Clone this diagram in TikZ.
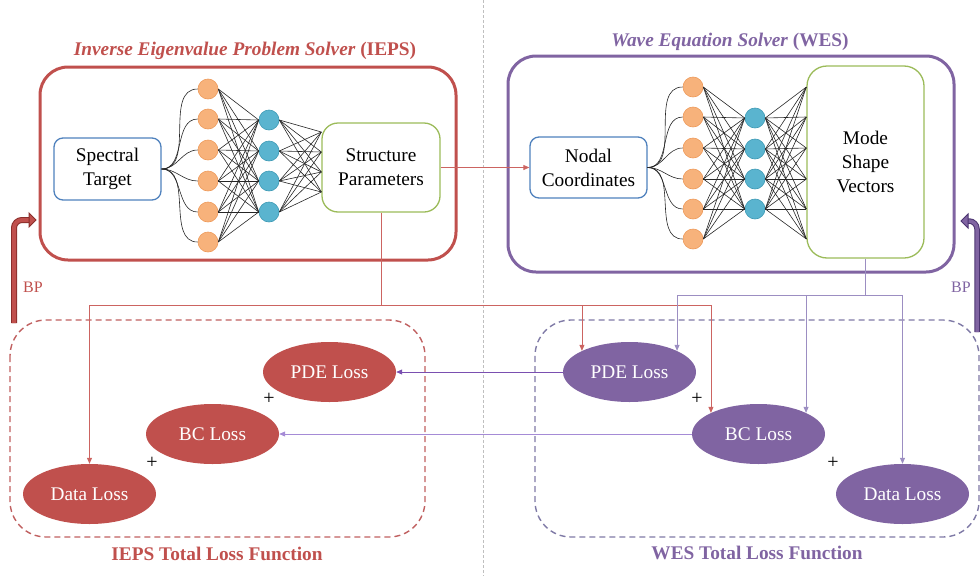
\documentclass[tikz,border=0pt]{standalone}
\usepackage{fontspec}
\setmainfont{Liberation Serif}
\usetikzlibrary{shapes.geometric,arrows.meta,calc}

\definecolor{iepsred}{HTML}{C0504D}
\definecolor{wespurple}{HTML}{8064A2}
\definecolor{boxblue}{HTML}{4F81BD}
\definecolor{boxgreen}{HTML}{9BBB59}
\definecolor{orgfill}{HTML}{F7B27B}
\definecolor{orgline}{HTML}{EE9A5A}
\definecolor{cyfill}{HTML}{5AB4CF}
\definecolor{cyline}{HTML}{3E9AB5}
\definecolor{linkred}{HTML}{CC6461}
\definecolor{linkpurple}{HTML}{9C8EC2}
\definecolor{darkpurple}{HTML}{7A4FB0}
\definecolor{lightpurple}{HTML}{A58BD6}
\definecolor{dashred}{HTML}{C06060}
\definecolor{dashpurple}{HTML}{7F7AA6}
\definecolor{bpred}{HTML}{8B2E2B}
\definecolor{bppurple}{HTML}{4B3470}

\tikzset{
  txt/.style={font=\fontsize{19.3}{24}\selectfont, align=center},
  inbox/.style={txt, draw=boxblue, line width=1.3pt, rounded corners=9pt, inner sep=0pt},
  outbox/.style={txt, draw=boxgreen, line width=1.3pt, rounded corners=16pt, inner sep=0pt},
  onode/.style={circle, fill=orgfill, draw=orgline, line width=0.6pt, minimum size=20pt, inner sep=0pt},
  bnode/.style={circle, fill=cyfill, draw=cyline, line width=0.6pt, minimum size=20pt, inner sep=0pt},
  net/.style={black!85, line width=0.6pt},
  loss/.style={ellipse, minimum width=133pt, minimum height=60pt, inner sep=0pt, text=white,
               font=\fontsize{19.3}{22}\selectfont},
  lossred/.style={loss, fill=iepsred},
  losspurple/.style={loss, fill=wespurple},
  tip/.style={-{Triangle[length=6pt,width=5pt]}},
  plussign/.style={font=\fontsize{20}{20}\selectfont},
  title/.style={font=\fontsize{19.3}{22}\selectfont\bfseries},
}

\begin{document}
\begin{tikzpicture}[x=1pt,y=-1pt]
\useasboundingbox (0,0) rectangle (980,576);

% centre divider
\draw[black!25, line width=1pt, dash pattern=on 3pt off 2pt] (483,0) -- (483,576);

% ---------------- IEPS ----------------
\node[title, text=iepsred] (t1) at (245,51) {\itshape Inverse Eigenvalue Problem Solver\/ \upshape(IEPS)};
\draw[iepsred, line width=3pt, rounded corners=28pt] (40,67) rectangle (456,260);

\node[inbox, minimum width=107pt, minimum height=62pt] (st) at (107.5,169) {Spectral\\Target};
\node[outbox, minimum width=118pt, minimum height=89pt] (sp) at (381,167.5) {Structure\\Parameters};

\foreach \i/\yy in {1/89,2/119,3/150,4/181,5/212,6/242}
  \node[onode] (a\i) at (208,\yy) {};
\foreach \i/\yy in {1/120,2/151,3/181,4/212}
  \node[bnode] (b\i) at (269,\yy) {};

\foreach \i in {1,...,6}
  \draw[net] (st.east) to[out=0,in=180] (a\i.west);
\foreach \i in {1,...,6}
  \foreach \j in {1,...,4}
    \draw[net] (a\i.east) -- (b\j.west);
\foreach \j in {1,...,4}
  \foreach \yy in {132,152,172,192}
    \draw[net] (b\j.east) -- (sp.west |- 0,\yy);

% ---------------- WES ----------------
\node[title, text=wespurple] (t2) at (730,42) {\itshape Wave Equation Solver\/ \upshape(WES)};
\draw[wespurple, line width=3pt, rounded corners=28pt] (508,56) rectangle (954,272);

\node[inbox, minimum width=117pt, minimum height=61pt] (nc) at (588.5,167.5) {Nodal\\Coordinates};
\node[outbox, rounded corners=20pt, minimum width=117pt, minimum height=192pt] (ms) at (865.5,162) {Mode\\Shape\\Vectors};

\foreach \i/\yy in {1/87,2/117,3/148,4/179,5/209,6/239}
  \node[onode] (c\i) at (693,\yy) {};
\foreach \i/\yy in {1/118,2/149,3/179,4/209}
  \node[bnode] (d\i) at (755,\yy) {};

\foreach \i in {1,...,6}
  \draw[net] (nc.east) to[out=0,in=180] (c\i.west);
\foreach \i in {1,...,6}
  \foreach \j in {1,...,4}
    \draw[net] (c\i.east) -- (d\j.west);
\foreach \j in {1,...,4}
  \foreach \yy in {87,117,148,179,209,239}
    \draw[net] (d\j.east) -- (ms.west |- 0,\yy);

% structure parameters feed the wave solver
\draw[linkred, line width=0.8pt, tip] (sp.east) -- (nc.west);

% ---------------- loss functions ----------------
\draw[dashred, line width=1.4pt, dash pattern=on 6pt off 4pt, rounded corners=36pt] (10,320) rectangle (425,537);
\draw[dashpurple, line width=1.4pt, dash pattern=on 6pt off 4pt, rounded corners=36pt] (535,320) rectangle (979,537);

\node[lossred] (rpde) at (329.5,372) {PDE Loss};
\node[lossred] (rbc) at (212.5,434) {BC Loss};
\node[lossred] (rdl) at (89.5,494) {Data Loss};
\node[losspurple] (wpde) at (629.5,372) {PDE Loss};
\node[losspurple] (wbc) at (758.5,434) {BC Loss};
\node[losspurple] (wdl) at (902.5,494) {Data Loss};

\node[plussign] (p1) at (269,399) {+};
\node[plussign] (p2) at (152,463) {+};
\node[plussign] (p3) at (697,399) {+};
\node[plussign] (p4) at (833,463) {+};

\node[title, text=iepsred] (l1) at (217,554) {IEPS Total Loss Function};
\node[title, text=wespurple] (l2) at (757,553) {WES Total Loss Function};

% connectors from the structure parameters
\coordinate (rj) at (381,305);
\draw[linkred, line width=0.8pt, tip] (sp.south) -- (rj) -| (rdl.north);
\draw[linkred, line width=0.8pt, tip] (rj) -| (wpde.156);
\draw[linkred, line width=0.8pt, tip] (rj) -| (wbc.156);

% connectors from the mode shape vectors
\coordinate (pj) at (865.5,295);
\draw[linkpurple, line width=0.8pt, tip] (ms.south) -- (pj) -| (wpde.24);
\draw[linkpurple, line width=0.8pt, tip] (pj) -| (wdl.north);
\draw[linkpurple, line width=0.8pt, tip] (pj) -| (wbc.24);

% physics losses shared with the inverse solver
\draw[darkpurple, line width=0.8pt, tip] (wpde.west) -- (rpde.east);
\draw[lightpurple, line width=0.8pt, tip] (wbc.west) -- (rbc.east);

% ---------------- back-propagation arrows ----------------
\draw[draw=bpred, double=iepsred, double distance=4pt, line width=1pt, rounded corners=8pt]
  (14,323) -- (14,220) -- (29.5,220);
\filldraw[fill=iepsred, draw=bpred, line width=1pt] (29,213) -- (36,220) -- (29,227) -- cycle;
\node[text=iepsred, font=\fontsize{16}{16}\selectfont] (bp1) at (33,287) {BP};

\draw[draw=bppurple, double=wespurple, double distance=3.5pt, line width=1pt, rounded corners=8pt]
  (977,332) -- (977,221) -- (967.5,221);
\filldraw[fill=wespurple, draw=bppurple, line width=1pt] (968,214) -- (961,221) -- (968,228) -- cycle;
\node[text=wespurple, font=\fontsize{16}{16}\selectfont] (bp2) at (961,287) {BP};
\end{tikzpicture}
\end{document}
